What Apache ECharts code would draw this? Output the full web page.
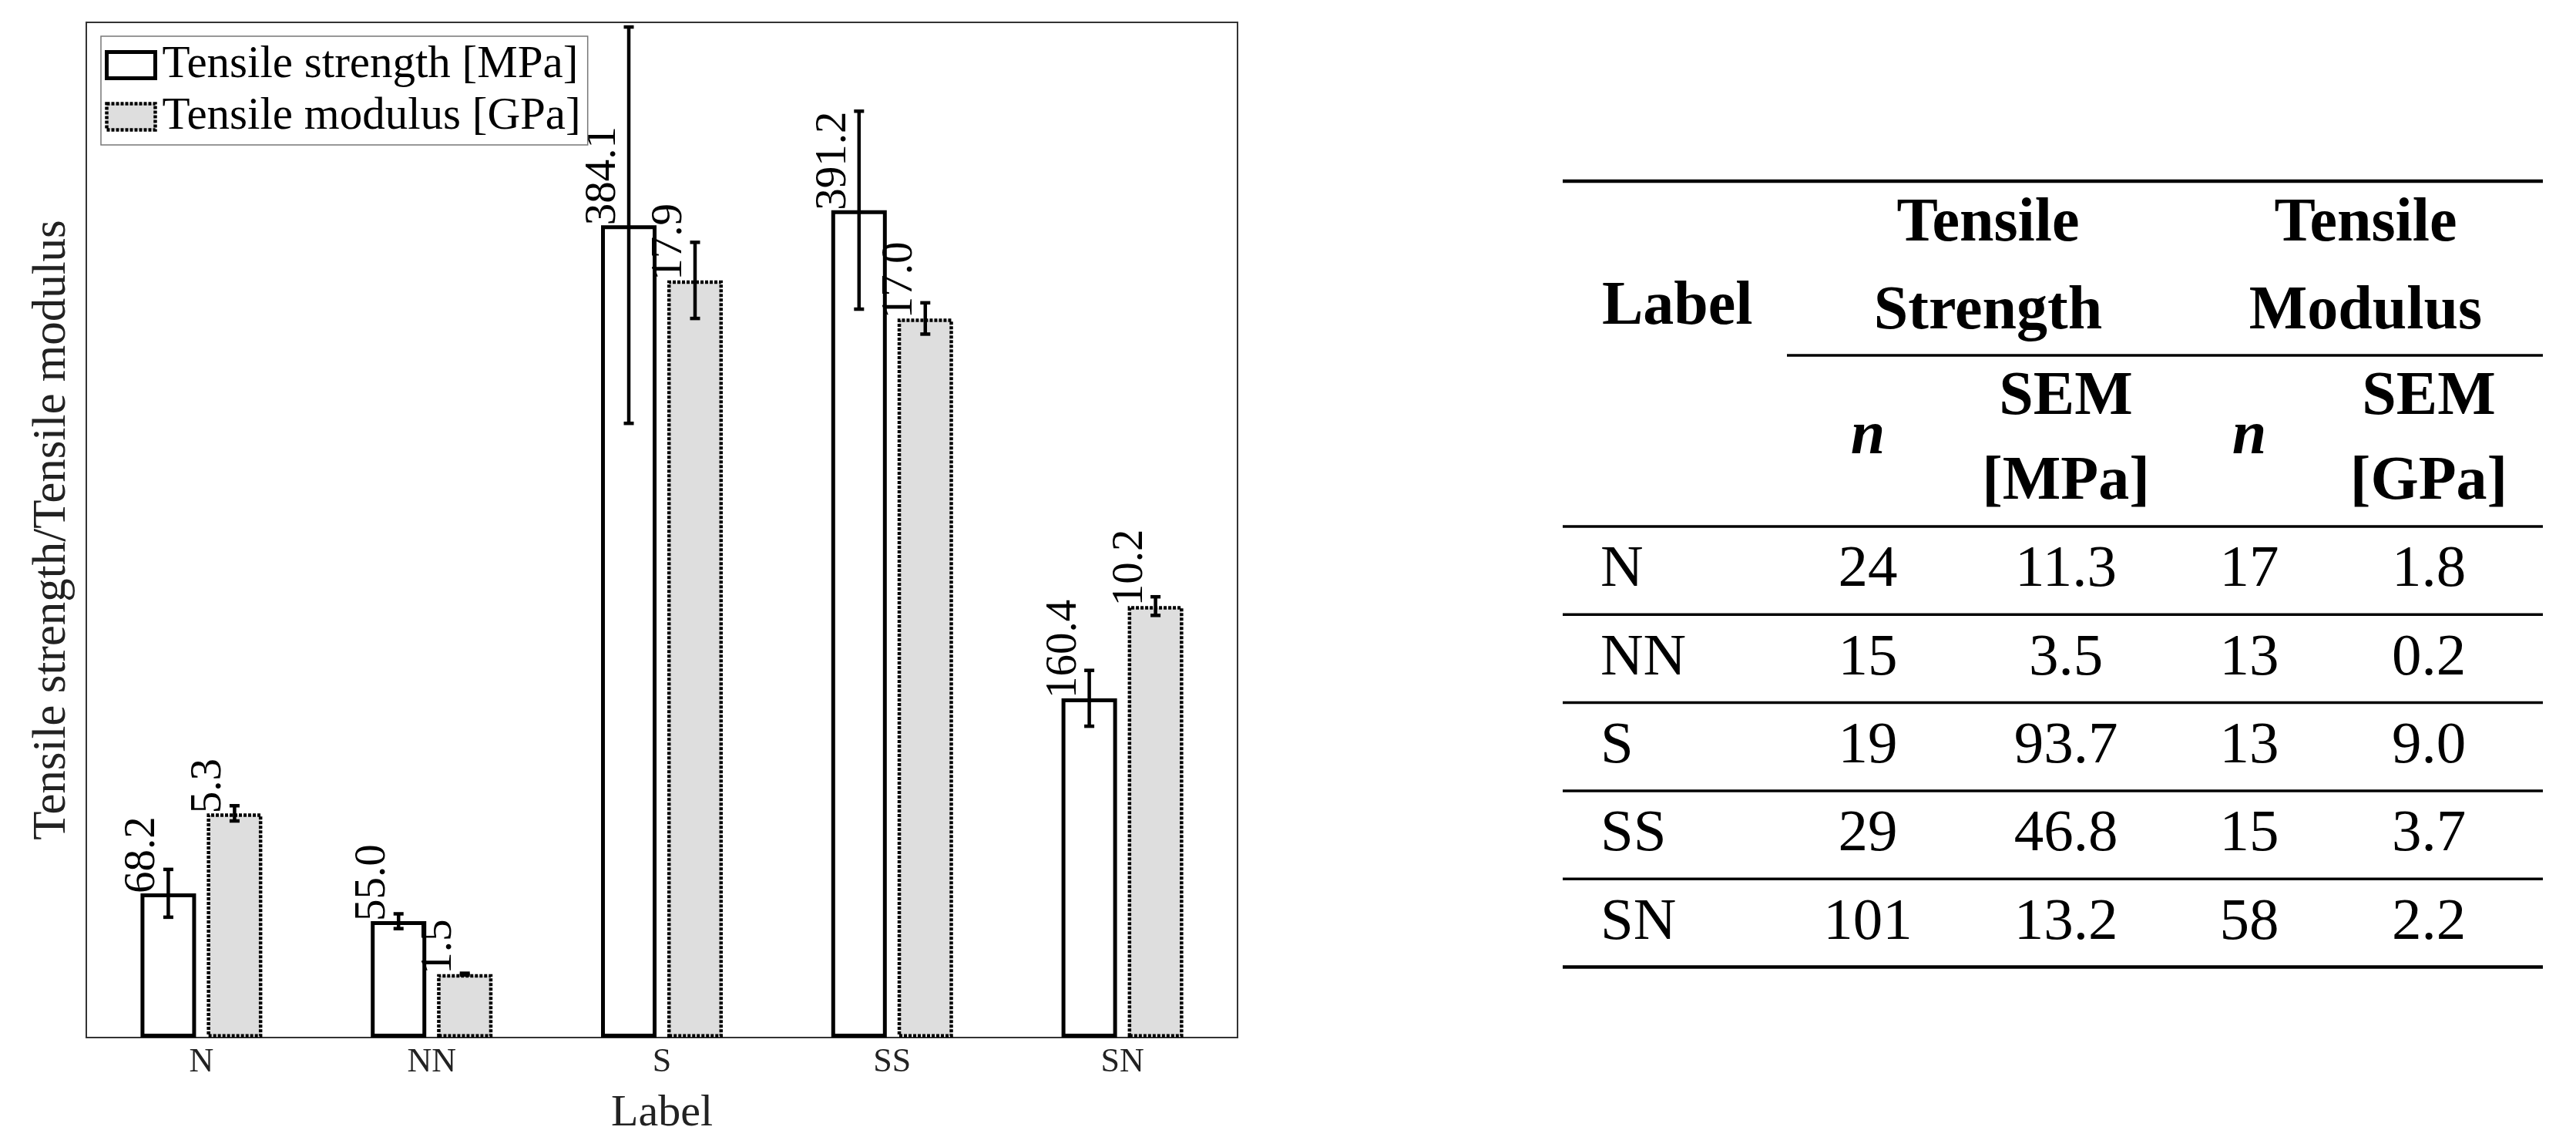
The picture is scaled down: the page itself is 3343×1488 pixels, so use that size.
<!DOCTYPE html>
<html>
<head>
<meta charset="utf-8">
<title>Tensile strength / modulus</title>
<script src="https://cdn.jsdelivr.net/npm/echarts@6.0.0/dist/echarts.min.js"></script>
<style>
  html, body { margin: 0; padding: 0; background: #fff; }
  #chart { width: 3343px; height: 1488px; }
</style>
</head>
<body>
<div id="chart"></div>
<script>
// data
const categories = ['N', 'NN', 'S', 'SS', 'SN'];
const strength = [68.2, 55.0, 384.1, 391.2, 160.4];
const modulus = [5.3, 1.5, 17.9, 17.0, 10.2];
const strengthErr = [11.3, 3.5, 93.7, 46.8, 13.2];
const modulusErr = [0.18, 0.02, 0.9, 0.37, 0.22];

// table on the right
const tableN1 = ['24', '15', '19', '29', '101'];
const tableSem1 = ['11.3', '3.5', '93.7', '46.8', '13.2'];
const tableN2 = ['17', '13', '13', '15', '58'];
const tableSem2 = ['1.8', '0.2', '9.0', '3.7', '2.2'];

const FONT = 'Liberation Serif';
const BAR_W = 0.241;   // share of the category band
const BAR_GAP = 0.194; // share of bar width

let chart = echarts.init(document.getElementById('chart'), null, { renderer: 'canvas' });

// error bars drawn next to the bar of the same series
function errorBars (sign) {
  return function (params, api) {
    let i = api.value(0);
    let v = api.value(1);
    let e = api.value(2);
    let band = api.size([1, 0])[0];
    let w = band * BAR_W;
    let off = sign * (w + w * BAR_GAP) / 2;
    let top = api.coord([i, v + e]);
    let bot = api.coord([i, v - e]);
    let x = top[0] + off;
    let st = { stroke: '#000', lineWidth: 4.5 };
    return {
      type: 'group',
      children: [
        { type: 'line', shape: { x1: x, y1: top[1], x2: x, y2: bot[1] }, style: st },
        { type: 'line', shape: { x1: x - 6.5, y1: top[1], x2: x + 6.5, y2: top[1] }, style: st },
        { type: 'line', shape: { x1: x - 6.5, y1: bot[1], x2: x + 6.5, y2: bot[1] }, style: st }
      ]
    };
  };
}

// table built from the arrays
function buildTable () {
  let els = [];
  let left = 2028, right = 3300;
  let headBottom = 683, rowH = 114.3;
  let colX = [2077, 2424, 2681, 2919, 3152];
  let txt = function (text, x, y, opt) {
    opt = opt || {};
    els.push({
      type: 'text', x: x, y: y, z: 10,
      style: {
        text: text, fill: '#000', fontFamily: FONT, fontSize: opt.bold ? 80 : 77,
        fontWeight: opt.bold ? 'bold' : 'normal',
        fontStyle: opt.italic ? 'italic' : 'normal',
        align: opt.align || 'center', verticalAlign: 'middle'
      }
    });
  };
  let rule = function (x1, x2, y, lw) {
    els.push({ type: 'line', z: 10, shape: { x1: x1, y1: y, x2: x2, y2: y }, style: { stroke: '#000', lineWidth: lw } });
  };
  rule(left, right, 235, 4.5);
  rule(2319, right, 461, 3.5);
  rule(left, right, headBottom, 3.5);
  // header
  txt('Label', 2079, 399, { bold: true, align: 'left' });
  txt('Tensile', 2580, 291, { bold: true });
  txt('Strength', 2580, 405, { bold: true });
  txt('Tensile', 3070, 291, { bold: true });
  txt('Modulus', 3070, 405, { bold: true });
  txt('n', colX[1], 567, { bold: true, italic: true });
  txt('n', colX[3], 567, { bold: true, italic: true });
  txt('SEM', colX[2], 516, { bold: true });
  txt('[MPa]', colX[2], 626, { bold: true });
  txt('SEM', colX[4], 516, { bold: true });
  txt('[GPa]', colX[4], 626, { bold: true });
  // body
  categories.forEach(function (c, i) {
    let y = headBottom + rowH * (i + 0.5);
    txt(c, colX[0], y, { align: 'left' });
    txt(tableN1[i], colX[1], y);
    txt(tableSem1[i], colX[2], y);
    txt(tableN2[i], colX[3], y);
    txt(tableSem2[i], colX[4], y);
    rule(left, right, headBottom + rowH * (i + 1), i === categories.length - 1 ? 4.5 : 3.5);
  });
  return els;
}

let valueLabel = {
  show: true,
  position: [3, 0],
  rotate: 90,
  align: 'left',
  verticalAlign: 'middle',
  fontFamily: FONT,
  fontSize: 57,
  color: '#000',
  formatter: function (p) { return p.value.toFixed(1); }
};

let option = {
  animation: false,
  backgroundColor: '#fff',
  grid: {
    left: 112, top: 29, right: 1737, bottom: 142,
    show: true, borderColor: '#333', borderWidth: 2, backgroundColor: 'transparent'
  },
  legend: {
    orient: 'vertical',
    left: 131, top: 47,
    padding: [8, 9, 7, 5],
    itemWidth: 63, itemHeight: 34, itemGap: 8,
    icon: 'rect',
    backgroundColor: '#fff',
    borderColor: '#777', borderWidth: 1.5, borderRadius: 0,
    textStyle: { fontFamily: FONT, fontSize: 59, color: '#000', padding: [0, 0, 0, 4] },
    data: [
      { name: 'Tensile strength [MPa]', itemStyle: { color: '#fff', borderColor: '#000', borderWidth: 5 } },
      { name: 'Tensile modulus [GPa]', itemStyle: { color: '#dedede', borderColor: '#000', borderWidth: 4.5, borderType: [4, 2] } }
    ]
  },
  xAxis: {
    type: 'category',
    data: categories,
    axisLine: { show: false },
    axisTick: { show: false },
    axisLabel: { margin: 10, fontFamily: FONT, fontSize: 44, color: '#222' },
    name: 'Label',
    nameLocation: 'middle',
    nameGap: 70,
    nameTextStyle: { fontFamily: FONT, fontSize: 58, color: '#222' }
  },
  yAxis: [
    {
      type: 'value', min: 0, max: 480,
      axisLine: { show: false }, axisTick: { show: false },
      axisLabel: { show: false }, splitLine: { show: false },
      name: 'Tensile strength/Tensile modulus',
      nameLocation: 'middle',
      nameGap: 14,
      nameTextStyle: { fontFamily: FONT, fontSize: 61, color: '#222' }
    },
    {
      type: 'value', min: 0, max: 24, position: 'left',
      axisLine: { show: false }, axisTick: { show: false },
      axisLabel: { show: false }, splitLine: { show: false }
    }
  ],
  series: [
    {
      name: 'Tensile strength [MPa]',
      type: 'bar',
      yAxisIndex: 0,
      data: strength,
      barWidth: (BAR_W * 100) + '%',
      barGap: (BAR_GAP * 100) + '%',
      itemStyle: { color: '#fff', borderColor: '#000', borderWidth: 5 },
      label: valueLabel,
      z: 2
    },
    {
      name: 'Tensile modulus [GPa]',
      type: 'bar',
      yAxisIndex: 1,
      data: modulus,
      barWidth: (BAR_W * 100) + '%',
      barGap: (BAR_GAP * 100) + '%',
      itemStyle: { color: '#dedede', borderColor: '#000', borderWidth: 4.5, borderType: [4, 2] },
      label: valueLabel,
      z: 2
    },
    {
      name: 'strengthErr',
      type: 'custom',
      yAxisIndex: 0,
      renderItem: errorBars(-1),
      data: categories.map(function (c, i) { return [i, strength[i], strengthErr[i]]; }),
      encode: { x: 0, y: 1 },
      z: 5,
      silent: true
    },
    {
      name: 'modulusErr',
      type: 'custom',
      yAxisIndex: 1,
      renderItem: errorBars(1),
      data: categories.map(function (c, i) { return [i, modulus[i], modulusErr[i]]; }),
      encode: { x: 0, y: 1 },
      z: 5,
      silent: true
    }
  ],
  graphic: { elements: buildTable() }
};

chart.setOption(option);
</script>
</body>
</html>
